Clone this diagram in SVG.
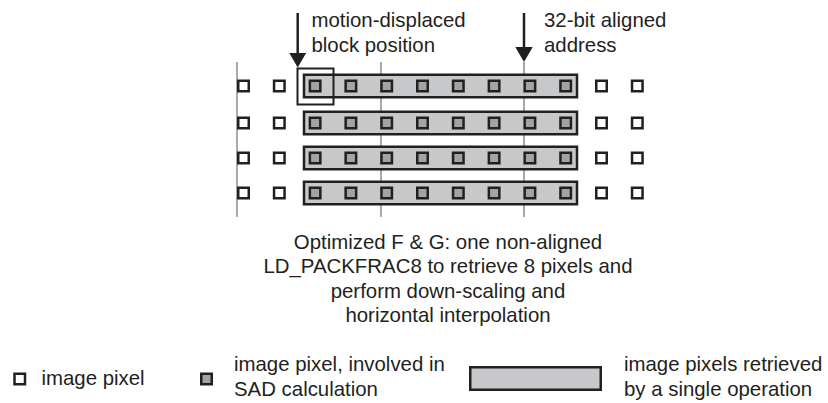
<svg xmlns="http://www.w3.org/2000/svg" width="828" height="403" viewBox="0 0 828 403">
<style>
text{font-family:"Liberation Sans",Arial,sans-serif;font-size:20.4px;fill:#231f20}
.grid{stroke:#a7a9ac;stroke-width:2;fill:none}
.bar{fill:#c7c8ca;stroke:#231f20;stroke-width:2.5}
.px{fill:#fff;stroke:#231f20;stroke-width:2.5}
.gpx{fill:#a2a3a5;stroke:#231f20;stroke-width:2.5}
.arrow{stroke:#231f20;stroke-width:2.5;fill:none;marker-end:url(#head)}
.box{fill:none;stroke:#231f20;stroke-width:2}
.mid{text-anchor:middle}
</style>
<defs>
<marker id="head" markerUnits="userSpaceOnUse" viewBox="0 0 15 17.4" refX="11" refY="8.7" markerWidth="15" markerHeight="17.4" orient="auto">
<path d="M0,0 L15,8.7 L0,17.4 Z" fill="#231f20"/>
</marker>
<rect id="wp" class="px" width="10.5" height="10.5"/>
<rect id="gp" class="gpx" width="10.5" height="10.5"/>
</defs>

<g id="gridlines">
<line class="grid" x1="237" y1="62" x2="237" y2="217"/>
<line class="grid" x1="381" y1="62" x2="381" y2="217"/>
<line class="grid" x1="524" y1="62" x2="524" y2="217"/>
</g>

<g id="bars">
<rect class="bar" x="304" y="74.75" width="273" height="22.5"/>
<rect class="bar" x="304" y="111.75" width="273" height="22.5"/>
<rect class="bar" x="304" y="146.75" width="273" height="22.5"/>
<rect class="bar" x="304" y="181.75" width="273" height="22.5"/>
</g>

<g id="pixels">
<g id="row1" transform="translate(0,80.75)">
<use href="#wp" x="238.25"/><use href="#wp" x="274.05"/>
<use href="#gp" x="309.85"/><use href="#gp" x="345.65"/><use href="#gp" x="381.45"/><use href="#gp" x="417.25"/>
<use href="#gp" x="453.05"/><use href="#gp" x="488.85"/><use href="#gp" x="524.65"/><use href="#gp" x="560.45"/>
<use href="#wp" x="596.25"/><use href="#wp" x="632.05"/>
</g>
<g id="row2" transform="translate(0,117.75)">
<use href="#wp" x="238.25"/><use href="#wp" x="274.05"/>
<use href="#gp" x="309.85"/><use href="#gp" x="345.65"/><use href="#gp" x="381.45"/><use href="#gp" x="417.25"/>
<use href="#gp" x="453.05"/><use href="#gp" x="488.85"/><use href="#gp" x="524.65"/><use href="#gp" x="560.45"/>
<use href="#wp" x="596.25"/><use href="#wp" x="632.05"/>
</g>
<g id="row3" transform="translate(0,152.75)">
<use href="#wp" x="238.25"/><use href="#wp" x="274.05"/>
<use href="#gp" x="309.85"/><use href="#gp" x="345.65"/><use href="#gp" x="381.45"/><use href="#gp" x="417.25"/>
<use href="#gp" x="453.05"/><use href="#gp" x="488.85"/><use href="#gp" x="524.65"/><use href="#gp" x="560.45"/>
<use href="#wp" x="596.25"/><use href="#wp" x="632.05"/>
</g>
<g id="row4" transform="translate(0,187.75)">
<use href="#wp" x="238.25"/><use href="#wp" x="274.05"/>
<use href="#gp" x="309.85"/><use href="#gp" x="345.65"/><use href="#gp" x="381.45"/><use href="#gp" x="417.25"/>
<use href="#gp" x="453.05"/><use href="#gp" x="488.85"/><use href="#gp" x="524.65"/><use href="#gp" x="560.45"/>
<use href="#wp" x="596.25"/><use href="#wp" x="632.05"/>
</g>
</g>

<g id="block-box">
<rect class="box" x="297.5" y="68.5" width="36" height="36"/>
</g>

<g id="connectors">
<line class="arrow" x1="297.7" y1="13" x2="297.7" y2="63.5"/>
<line class="arrow" x1="524" y1="13" x2="524" y2="58"/>
</g>

<g id="label-motion">
<text x="311.5" y="26.5">motion-displaced</text>
<text x="311.5" y="51.5">block position</text>
</g>
<g id="label-aligned">
<text x="544" y="26.5">32-bit aligned</text>
<text x="544" y="51.5">address</text>
</g>

<g id="caption">
<text class="mid" x="448" y="248.5">Optimized F &amp; G: one non-aligned</text>
<text class="mid" x="448" y="273">LD_PACKFRAC8 to retrieve 8 pixels and</text>
<text class="mid" x="448" y="297.5">perform down-scaling and</text>
<text class="mid" x="448" y="322">horizontal interpolation</text>
</g>

<g id="legend">
<g id="legend-pixel">
<use href="#wp" x="14.5" y="373.75"/>
<text x="41.5" y="385">image pixel</text>
</g>
<g id="legend-sad">
<use href="#gp" x="201.25" y="373.75"/>
<text x="234" y="371">image pixel, involved in</text>
<text x="234" y="396">SAD calculation</text>
</g>
<g id="legend-bar">
<rect class="bar" x="470.25" y="367.25" width="130.5" height="22.5"/>
<text x="624" y="371">image pixels retrieved</text>
<text x="624" y="396">by a single operation</text>
</g>
</g>
</svg>
